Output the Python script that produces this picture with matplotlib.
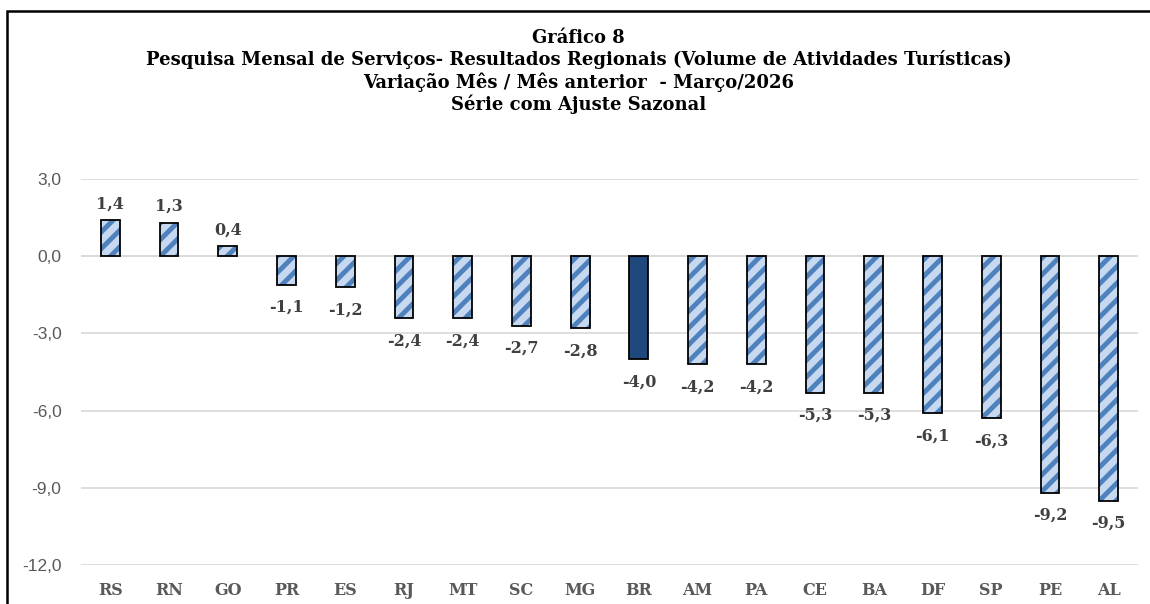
import matplotlib
matplotlib.use("Agg")
import matplotlib.pyplot as plt
from matplotlib.patches import Rectangle

# Dados
ufs = ["RS", "RN", "GO", "PR", "ES", "RJ", "MT", "SC", "MG", "BR",
       "AM", "PA", "CE", "BA", "DF", "SP", "PE", "AL"]
variacao = [1.4, 1.3, 0.4, -1.1, -1.2, -2.4, -2.4, -2.7, -2.8, -4.0,
            -4.2, -4.2, -5.3, -5.3, -6.1, -6.3, -9.2, -9.5]
yticks = [3, 0, -3, -6, -9, -12]

titulo = ("Gráfico 8\n"
          "Pesquisa Mensal de Serviços- Resultados Regionais (Volume de Atividades Turísticas)\n"
          "Variação Mês / Mês anterior  - Março/2026\n"
          "Série com Ajuste Sazonal")

plt.rcParams["hatch.linewidth"] = 3.5
serif = "DejaVu Serif"

fig = plt.figure(figsize=(11.5, 6.04), dpi=100)
ax = fig.add_axes([0.0704, 0.0646, 0.9192, 0.639])

x = list(range(len(ufs)))
cores = ["#1f497d" if u == "BR" else "#c6d9f1" for u in ufs]
hatches = ["" if u == "BR" else "//" for u in ufs]

# camada com hachura (cor da hachura = edgecolor)
for xi, v, c, h in zip(x, variacao, cores, hatches):
    ax.bar(xi, v, width=0.32, color=c, hatch=h, edgecolor="#4f81bd",
           linewidth=0, zorder=2)
# contorno preto
ax.bar(x, variacao, width=0.32, fill=False, edgecolor="black",
       linewidth=1.3, zorder=3)

for xi, v in zip(x, variacao):
    txt = f"{v:.1f}".replace(".", ",")
    off = 0.3 if v >= 0 else -0.55
    ax.text(xi, v + off, txt, ha="center", va="bottom" if v >= 0 else "top",
            fontsize=11.5, fontweight="bold", color="#404040", family=serif)

ax.set_xlim(-0.5, len(ufs) - 0.5)
ax.set_ylim(-12, 3)
ax.set_yticks(yticks)
ax.set_yticklabels([f"{t:.1f}".replace(".", ",") for t in yticks],
                   fontsize=12.5, color="#595959", family="Liberation Sans")
ax.set_xticks(x)
ax.set_xticklabels(ufs, fontsize=11.5, fontweight="bold", color="#595959",
                   family=serif)
ax.tick_params(length=0, axis="y", pad=14)
ax.tick_params(length=0, axis="x", pad=12)
ax.grid(axis="y", color="#d9d9d9", linewidth=1.2, zorder=0)
ax.axhline(0, color="#d9d9d9", linewidth=1.2, zorder=1)
for s in ax.spines.values():
    s.set_visible(False)

fig.text(0.503, 0.952, titulo, ha="center", va="top", fontsize=13,
         fontweight="bold", color="black", family=serif, linespacing=1.2)

# moldura
fig.add_artist(Rectangle((0.0065, -0.05), 1.1, 1.0315, transform=fig.transFigure,
                         fill=False, edgecolor="black", linewidth=1.8))

fig.savefig("out.png", dpi=100)
